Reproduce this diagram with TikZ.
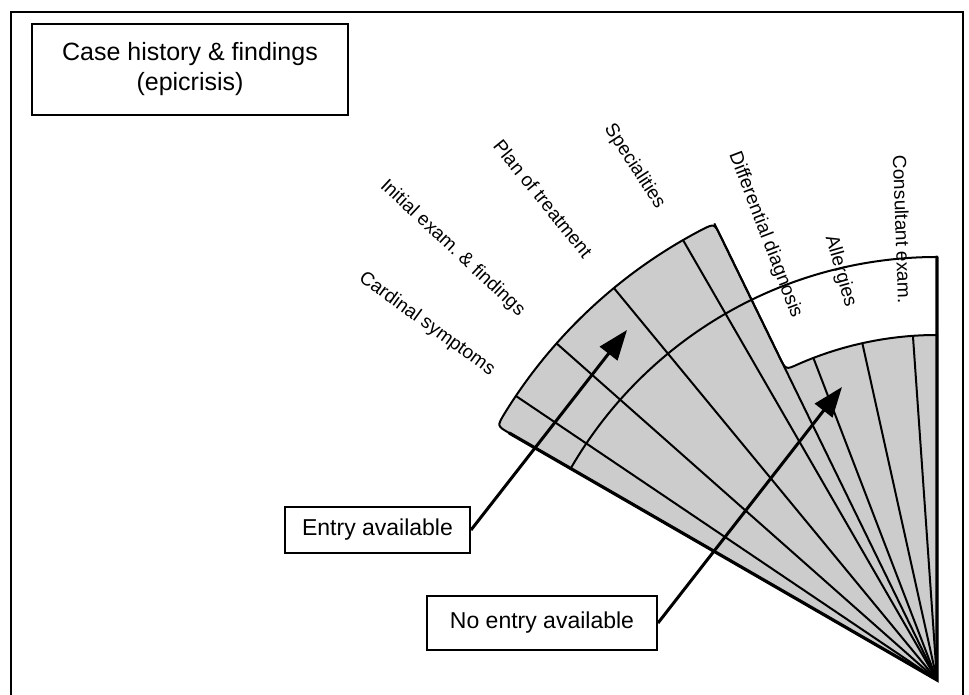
\documentclass[tikz,border=0pt]{standalone}
\usepackage{fontspec}
\setmainfont{Liberation Sans}
\usetikzlibrary{arrows.meta,positioning}

\begin{document}
\begin{tikzpicture}[x=1pt,y=1pt,>={Triangle[length=30pt,width=22pt]},
  box/.style={draw,line width=2pt,inner sep=0pt,font=\fontsize{23}{28}\selectfont},
  sect/.style={inner sep=0pt,font=\fontsize{19}{23}\selectfont},
  ray/.style={line width=2pt},
  rim/.style={line width=3.2pt,line cap=round}]
  \useasboundingbox (0,0) rectangle (969,695);
  \draw[line width=1.6pt] (11,-5) -- (11,683) -- (963,683) -- (963,-5);

  \node[box,minimum width=316pt,minimum height=91pt,align=center,
        font=\fontsize{25}{30}\selectfont] (title) at (190,625.5)
        {Case history \& findings\\(epicrisis)};
  \node[box,minimum width=185pt,minimum height=46pt] (entry) at (377.5,165) {Entry available};
  \node[box,minimum width=230pt,minimum height=54pt] (noentry) at (542,72) {No entry available};

  % the fan of record sections, apex bottom right
  \coordinate (apex) at (937,15);
  \begin{scope}[shift={(apex)}]
    \draw[line width=2pt,fill=black!20]
      (0,0) -- (150:494) .. controls (150:508) .. (148.4:508)
      arc[start angle=148.4,end angle=117.6,radius=508]
      .. controls (116:508) .. (116:494) -- (116:359)
      .. controls (116:345) .. (113.7:345)
      arc[start angle=113.7,end angle=90,radius=345] -- cycle;
    \foreach \a in {146,138.5,129.5,120,116}
      \draw[ray] (0,0) -- (\a:508);
    \foreach \a in {111,102.5,94}
      \draw[ray] (0,0) -- (\a:345);
    \draw[line width=2pt] (150:423) arc[start angle=150,end angle=90,radius=423];
    \draw[rim] (150:494) -- (0,0) -- (90:423);

    \node[sect,rotate=-36] (cardinal) at (145.1:622) {Cardinal symptoms};
    \node[sect,rotate=-43] (initial) at (138.3:649) {Initial exam.\ \& findings};
    \node[sect,rotate=-51] (plan) at (129.3:622) {Plan of treatment};
    \node[sect,rotate=-57] (special) at (120.5:596) {Specialities};
    \node[sect,rotate=-69] (differ) at (111.1:477) {Differential diagnosis};
    \node[sect,rotate=-74] (allerg) at (103.3:420) {Allergies};
    \node[sect,rotate=-88] (consult) at (94.4:452) {Consultant exam.};
  \end{scope}

  \coordinate (entrytip) at (627,365);
  \coordinate (noentrytip) at (842,308);
  \draw[->,line width=3pt] (entry.east) -- (entrytip);
  \draw[->,line width=3pt] (noentry.east) -- (noentrytip);
\end{tikzpicture}
\end{document}
